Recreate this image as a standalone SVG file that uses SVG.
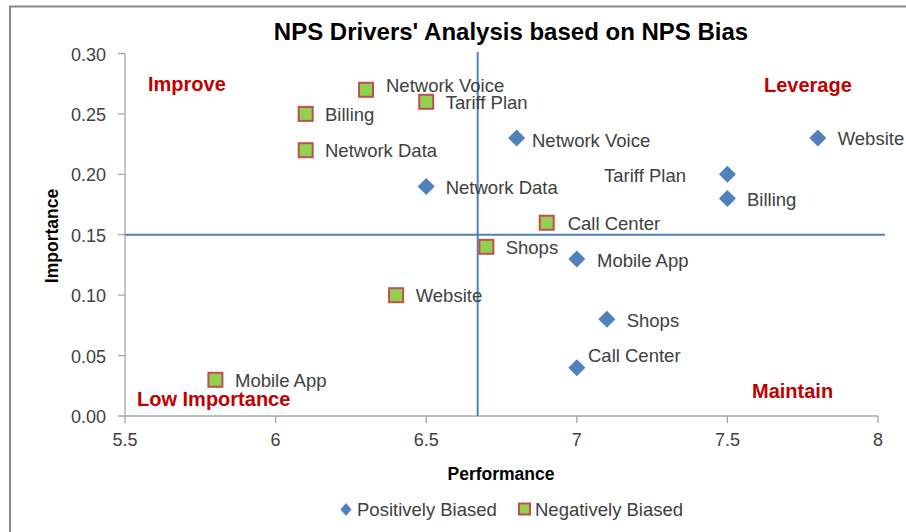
<svg xmlns="http://www.w3.org/2000/svg" xmlns:xlink="http://www.w3.org/1999/xlink" width="906" height="532" viewBox="0 0 906 532">
  <style>
    .frame { fill: none; stroke: #898989; stroke-width: 2; }
    .axis { stroke: #A6A6A6; stroke-width: 1.3; fill: none; }
    .ref { stroke: #4F81BD; stroke-width: 2; fill: none; }
    .title { font-family: "Liberation Sans", Arial, sans-serif; font-weight: bold; font-size: 24px; fill: #000; }
    .tick { font-family: "Liberation Sans", Arial, sans-serif; font-size: 18px; fill: #404040; }
    .axtitle { font-family: "Liberation Sans", Arial, sans-serif; font-weight: bold; font-size: 17.5px; fill: #000; }
    .quad { font-family: "Liberation Sans", Arial, sans-serif; font-weight: bold; font-size: 20px; fill: #C00000; }
    .lbl { font-family: "Liberation Sans", Arial, sans-serif; font-size: 18.5px; fill: #404040; }
    .pos { fill: #4F81BD; }
    .neg { fill: #92D050; stroke: #C0504D; stroke-width: 2; }
  </style>
  <defs>
    <path id="diamond" d="M0,-8.5 L8.5,0 L0,8.5 L-8.5,0 Z"/>
    <rect id="square" x="-7" y="-7" width="14" height="14"/>
  </defs>

  <rect width="906" height="532" fill="#fff"/>
  <!-- chart frame, clipped at right and bottom -->
  <path class="frame" d="M10,540 V6.5 H915"/>

  <text class="title" x="511" y="40" text-anchor="middle">NPS Drivers' Analysis based on NPS Bias</text>

  <!-- axes -->
  <g id="axes">
    <path class="axis" d="M125,53.5 V416 H878"/>
    <path class="axis" d="M118,53.5 H125 M118,113.9 H125 M118,174.3 H125 M118,234.7 H125 M118,295.2 H125 M118,355.6 H125 M118,416 H125"/>
    <path class="axis" d="M125,416 V423 M275.6,416 V423 M426.2,416 V423 M576.8,416 V423 M727.4,416 V423 M878,416 V423"/>
    <g class="tick" text-anchor="end">
      <text x="106" y="61">0.30</text>
      <text x="106" y="121">0.25</text>
      <text x="106" y="181">0.20</text>
      <text x="106" y="241.5">0.15</text>
      <text x="106" y="302">0.10</text>
      <text x="106" y="362.5">0.05</text>
      <text x="106" y="423">0.00</text>
    </g>
    <g class="tick" text-anchor="middle">
      <text x="125" y="446">5.5</text>
      <text x="275.6" y="446">6</text>
      <text x="426.2" y="446">6.5</text>
      <text x="576.8" y="446">7</text>
      <text x="727.4" y="446">7.5</text>
      <text x="878" y="446">8</text>
    </g>
    <text class="axtitle" x="501" y="480" text-anchor="middle">Performance</text>
    <text class="axtitle" transform="translate(58,236) rotate(-90)" text-anchor="middle">Importance</text>
  </g>

  <!-- quadrant dividers -->
  <g id="connectors">
    <line class="ref" x1="477.7" y1="52" x2="477.7" y2="416"/>
    <line class="ref" x1="125" y1="234.7" x2="885" y2="234.7"/>
  </g>

  <!-- quadrant names -->
  <text class="quad" x="148" y="91">Improve</text>
  <text class="quad" x="764" y="91.5">Leverage</text>
  <text class="quad" x="137" y="406" font-size="19.5">Low Importance</text>
  <text class="quad" x="752" y="398">Maintain</text>

  <!-- negatively biased drivers -->
  <g id="neg-network-voice"><use href="#square" class="neg" x="366" y="89.8"/><text class="lbl" x="386" y="91.5">Network Voice</text></g>
  <g id="neg-tariff-plan"><use href="#square" class="neg" x="426.2" y="101.8"/><text class="lbl" x="445.7" y="109">Tariff Plan</text></g>
  <g id="neg-billing"><use href="#square" class="neg" x="305.7" y="113.9"/><text class="lbl" x="325" y="121">Billing</text></g>
  <g id="neg-network-data"><use href="#square" class="neg" x="305.7" y="150.2"/><text class="lbl" x="325" y="157">Network Data</text></g>
  <g id="neg-call-center"><use href="#square" class="neg" x="546.7" y="222.7"/><text class="lbl" x="567.7" y="230">Call Center</text></g>
  <g id="neg-shops"><use href="#square" class="neg" x="486.4" y="246.8"/><text class="lbl" x="505.7" y="253.5">Shops</text></g>
  <g id="neg-website"><use href="#square" class="neg" x="396.1" y="295.2"/><text class="lbl" x="415.7" y="302">Website</text></g>
  <g id="neg-mobile-app"><use href="#square" class="neg" x="215.4" y="379.8"/><text class="lbl" x="235" y="386.5">Mobile App</text></g>

  <!-- positively biased drivers -->
  <g id="pos-network-voice"><use href="#diamond" class="pos" x="516.6" y="138.1"/><text class="lbl" x="532" y="147">Network Voice</text></g>
  <g id="pos-network-data"><use href="#diamond" class="pos" x="426.2" y="186.4"/><text class="lbl" x="445.7" y="193.5">Network Data</text></g>
  <g id="pos-website"><use href="#diamond" class="pos" x="817.8" y="138.1"/><text class="lbl" x="837.7" y="145">Website</text></g>
  <g id="pos-tariff-plan"><use href="#diamond" class="pos" x="727.4" y="174.3"/><text class="lbl" x="686" y="182" text-anchor="end">Tariff Plan</text></g>
  <g id="pos-billing"><use href="#diamond" class="pos" x="727.4" y="198.5"/><text class="lbl" x="747" y="206">Billing</text></g>
  <g id="pos-mobile-app"><use href="#diamond" class="pos" x="576.8" y="258.9"/><text class="lbl" x="597" y="266.5">Mobile App</text></g>
  <g id="pos-shops"><use href="#diamond" class="pos" x="606.9" y="319.3"/><text class="lbl" x="626.7" y="326.5">Shops</text></g>
  <g id="pos-call-center"><use href="#diamond" class="pos" x="576.8" y="367.7"/><text class="lbl" x="588" y="362">Call Center</text></g>

  <!-- legend -->
  <g id="legend">
    <path class="pos" d="M346,503 L351.5,509.5 L346,516 L340.5,509.5 Z"/>
    <text class="lbl" x="357" y="516">Positively Biased</text>
    <rect class="neg" x="519" y="503.5" width="11" height="11" stroke-width="1.5"/>
    <text class="lbl" x="535" y="516">Negatively Biased</text>
  </g>
</svg>
